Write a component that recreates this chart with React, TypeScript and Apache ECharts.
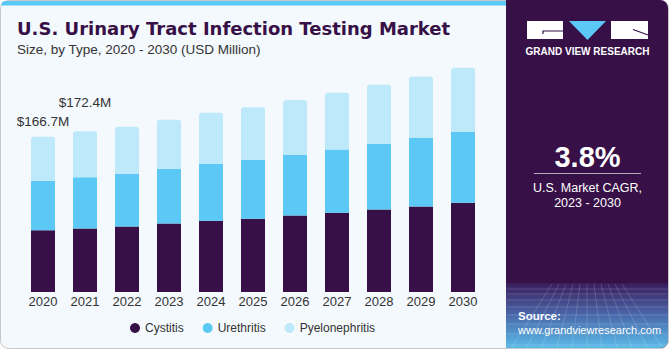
import React, { useEffect, useRef } from "react";
import * as echarts from "echarts";

const years = ["2020", "2021", "2022", "2023", "2024", "2025", "2026", "2027", "2028", "2029", "2030"];
const cystitis = [66.2, 68.0, 70.4, 73.6, 76.5, 78.7, 82.2, 85.1, 88.6, 91.8, 95.8];
const urethritis = [53.1, 55.0, 56.5, 58.7, 60.8, 63.3, 65.1, 67.9, 70.2, 73.4, 76.2];
const pyelonephritis = [47.4, 49.4, 50.4, 52.6, 55.0, 56.1, 58.7, 60.8, 63.6, 66.1, 68.7];
const totalLabels = ["$166.7M", "$172.4M"];
const labelDistances = [8, 22];

const seriesNames = ["Cystitis", "Urethritis", "Pyelonephritis"];
const colors = ["#371047", "#5bc8f5", "#bde9fa"];

const FONT = "'Liberation Sans', Arial, sans-serif";

function buildMesh() {
  const els: any[] = [];
  const stroke = "rgba(255,255,255,0.16)";
  const hs = [289, 294, 300, 307, 315, 324, 334, 345];
  hs.forEach((y) => {
    els.push({ type: "line", shape: { x1: 507, y1: y, x2: 667, y2: y }, style: { stroke, lineWidth: 1 } });
  });
  for (let k = -5; k <= 5; k++) {
    els.push({
      type: "line",
      shape: { x1: 587 + k * 7, y1: 284, x2: 587 + k * 15, y2: 347 },
      style: { stroke, lineWidth: 1 },
    });
  }
  return els;
}

export default function App() {
  const ref = useRef<HTMLDivElement>(null);

  useEffect(() => {
    if (!ref.current) return;
    const chart = echarts.init(ref.current, null, { renderer: "svg", width: 670, height: 350 });

    const pyeloData = pyelonephritis.map((v, i) =>
      i < totalLabels.length
        ? {
            value: v,
            label: {
              show: true,
              position: "top",
              distance: labelDistances[i],
              formatter: totalLabels[i],
              color: "#333333",
              fontSize: 13.5,
              fontFamily: FONT,
            },
          }
        : v
    );

    const option: any = {
      animation: false,
      graphic: [
        {
          type: "rect",
          z: -10,
          shape: { x: 0.5, y: 0.5, width: 668, height: 348, r: 8 },
          style: { fill: "#f4f9fd", stroke: "#c8c8c8", lineWidth: 1 },
        },
        {
          type: "rect",
          z: -9,
          shape: { x: 1, y: 1, width: 506, height: 4.5, r: [7, 0, 0, 0] },
          style: { fill: "#5bc8f5" },
        },
        {
          type: "rect",
          z: -8,
          shape: { x: 506, y: 0, width: 162, height: 348, r: [0, 8, 8, 0] },
          style: { fill: "#371047" },
        },
        {
          type: "rect",
          z: -7,
          shape: { x: 506, y: 283, width: 162, height: 65, r: [0, 0, 8, 0] },
          style: {
            fill: new echarts.graphic.LinearGradient(0, 0, 0, 1, [
              { offset: 0, color: "#3a1c5c" },
              { offset: 0.5, color: "#4a69ab" },
              { offset: 1, color: "#5bbbe9" },
            ]),
          },
        },
        ...buildMesh(),
        // logo
        { type: "rect", shape: { x: 527, y: 21, width: 36, height: 18 }, style: { fill: "#ffffff" } },
        { type: "polyline", shape: { points: [[543, 34], [543, 31], [563, 31]] }, style: { stroke: "#371047", lineWidth: 1.2, fill: null } },
        { type: "polygon", shape: { points: [[569, 21], [606, 21], [587.5, 40]] }, style: { fill: "#5bc8f5" } },
        { type: "rect", shape: { x: 611, y: 21, width: 37, height: 18 }, style: { fill: "#ffffff" } },
        { type: "line", shape: { x1: 633, y1: 29.5, x2: 648, y2: 35 }, style: { stroke: "#371047", lineWidth: 1.2 } },
        {
          type: "text",
          x: 587.5,
          y: 51,
          style: { text: "GRAND VIEW RESEARCH", fill: "#ffffff", font: `bold 10px ${FONT}`, textAlign: "center", align: "center", textVerticalAlign: "middle", verticalAlign: "middle" },
        },
        {
          type: "text",
          x: 587.5,
          y: 157,
          style: { text: "3.8%", fill: "#ffffff", font: `bold 29px ${FONT}`, textAlign: "center", align: "center", textVerticalAlign: "middle", verticalAlign: "middle" },
        },
        { type: "line", shape: { x1: 534, y1: 173.5, x2: 641, y2: 173.5 }, style: { stroke: "rgba(255,255,255,0.65)", lineWidth: 1 } },
        {
          type: "text",
          x: 587.5,
          y: 188,
          style: { text: "U.S. Market CAGR,", fill: "#ffffff", font: `12.5px ${FONT}`, textAlign: "center", align: "center", textVerticalAlign: "middle", verticalAlign: "middle" },
        },
        {
          type: "text",
          x: 587.5,
          y: 203,
          style: { text: "2023 - 2030", fill: "#ffffff", font: `12.5px ${FONT}`, textAlign: "center", align: "center", textVerticalAlign: "middle", verticalAlign: "middle" },
        },
        {
          type: "text",
          x: 518,
          y: 316,
          style: { text: "Source:", fill: "#ffffff", font: `bold 11.5px ${FONT}`, textAlign: "left", align: "left", textVerticalAlign: "middle", verticalAlign: "middle" },
        },
        {
          type: "text",
          x: 518,
          y: 329.5,
          style: { text: "www.grandviewresearch.com", fill: "#ffffff", font: `11px ${FONT}`, textAlign: "left", align: "left", textVerticalAlign: "middle", verticalAlign: "middle" },
        },
        // titles
        {
          type: "text",
          x: 17,
          y: 28.5,
          style: { text: "U.S. Urinary Tract Infection Testing Market", fill: "#371047", font: `bold 18px 'DejaVu Sans', sans-serif`, textAlign: "left", align: "left", textVerticalAlign: "middle", verticalAlign: "middle" },
        },
        {
          type: "text",
          x: 17,
          y: 49.5,
          style: { text: "Size, by Type, 2020 - 2030 (USD Million)", fill: "#333333", font: `13.5px ${FONT}`, textAlign: "left", align: "left", textVerticalAlign: "middle", verticalAlign: "middle" },
        },
      ],
      grid: { left: 22, right: 186, top: 59, bottom: 58, containLabel: false },
      legend: {
        data: seriesNames,
        left: 125,
        top: 317,
        icon: "circle",
        itemWidth: 10,
        itemHeight: 10,
        itemGap: 19,
        textStyle: { color: "#333333", fontSize: 12, fontFamily: FONT },
      },
      xAxis: {
        type: "category",
        data: years,
        axisLine: { show: false },
        axisTick: { show: false },
        axisLabel: { color: "#333333", fontSize: 13, fontFamily: FONT, margin: 3 },
      },
      yAxis: { type: "value", min: 0, max: 250, show: false, splitLine: { show: false } },
      series: [
        { name: seriesNames[0], type: "bar", stack: "total", barWidth: 24, data: cystitis, itemStyle: { color: colors[0] } },
        { name: seriesNames[1], type: "bar", stack: "total", barWidth: 24, data: urethritis, itemStyle: { color: colors[1] } },
        { name: seriesNames[2], type: "bar", stack: "total", barWidth: 24, data: pyeloData, itemStyle: { color: colors[2], borderRadius: [3, 3, 0, 0] } },
      ],
    };

    chart.setOption(option);
    return () => chart.dispose();
  }, []);

  return <div ref={ref} style={{ position: "absolute", left: 0, top: 0, width: 670, height: 350 }} />;
}
